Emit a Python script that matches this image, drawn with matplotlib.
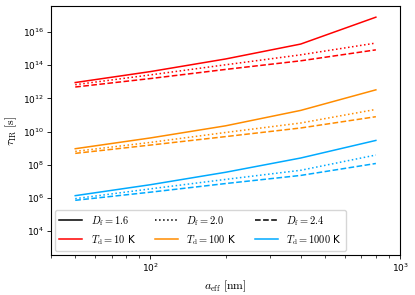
import numpy as np
import matplotlib
matplotlib.use("Agg")
import matplotlib.pyplot as plt
from matplotlib.lines import Line2D
from matplotlib.ticker import NullFormatter

plt.rcParams["mathtext.fontset"] = "cm"
plt.rcParams["font.size"] = 6.5

# grain size grid [nm]
a_eff = [50, 100, 200, 400, 800]

# log10(tau_IR / s)
# keys: (T_d, D_f)
logtau_10_16 = [12.96, 13.62, 14.38, 15.28, 16.90]
logtau_10_20 = [12.83, 13.42, 14.03, 14.63, 15.34]
logtau_10_24 = [12.69, 13.20, 13.75, 14.27, 14.93]

logtau_100_16 = [8.97, 9.62, 10.35, 11.28, 12.52]
logtau_100_20 = [8.81, 9.35, 9.95, 10.52, 11.34]
logtau_100_24 = [8.69, 9.19, 9.70, 10.22, 10.90]

logtau_1000_16 = [6.14, 6.80, 7.55, 8.41, 9.47]
logtau_1000_20 = [5.96, 6.55, 7.12, 7.67, 8.59]
logtau_1000_24 = [5.86, 6.35, 6.87, 7.36, 8.08]

T_d = [10, 100, 1000]
D_f = [1.6, 2.0, 2.4]
colors = ["red", "darkorange", "#00aaff"]
styles = ["-", ":", "--"]

series = {
    10: [logtau_10_16, logtau_10_20, logtau_10_24],
    100: [logtau_100_16, logtau_100_20, logtau_100_24],
    1000: [logtau_1000_16, logtau_1000_20, logtau_1000_24],
}

fig, ax = plt.subplots(figsize=(4.15, 2.95), dpi=100)
fig.subplots_adjust(left=0.123, right=0.964, top=0.980, bottom=0.136)

for T, c in zip(T_d, colors):
    for vals, ls in zip(series[T], styles):
        ax.plot(a_eff, 10.0 ** np.array(vals), color=c, ls=ls, lw=1.1)

ax.set_xscale("log")
ax.set_yscale("log")
ax.set_xlim(40, 1000)
ax.set_ylim(10**2.57, 10**17.58)
ax.xaxis.set_minor_formatter(NullFormatter())
ax.tick_params(which="major", length=3, width=0.6, pad=2)
ax.tick_params(which="minor", length=1.8, width=0.5)
for s in ax.spines.values():
    s.set_linewidth(0.8)
ax.set_xlabel(r"$a_{\rm eff}\ [{\rm nm}]$", fontsize=8.5, labelpad=3)
ax.set_ylabel(r"$\tau_{\rm IR}\ [{\rm s}]$", fontsize=8.5, labelpad=3)

handles = []
labels = []
for i in range(3):
    handles.append(Line2D([], [], color="black", ls=styles[i], lw=1.1))
    labels.append(rf"$D_{{\rm f}}={D_f[i]:.1f}$")
    handles.append(Line2D([], [], color=colors[i], lw=1.1))
    labels.append(rf"$T_{{\rm d}}={T_d[i]}$ K")
ax.legend(handles, labels, loc="lower left", ncol=3, fontsize=7.5,
          columnspacing=1.8, handlelength=2.2, borderaxespad=0.4)

fig.savefig("out.png", dpi=100)
